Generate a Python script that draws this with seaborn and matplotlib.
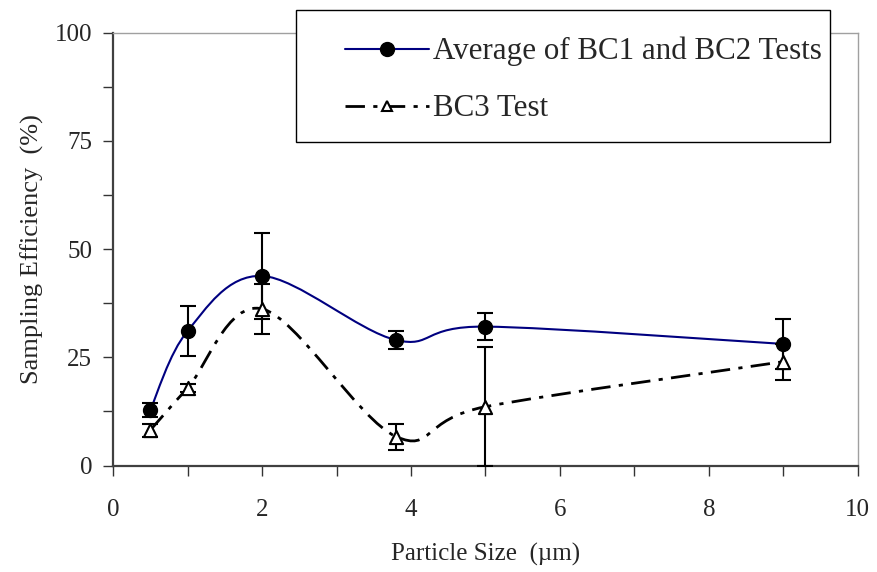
import numpy as np
import pandas as pd
import seaborn as sns
import matplotlib.pyplot as plt
from matplotlib.path import Path
from matplotlib.patches import PathPatch, Rectangle
from matplotlib.lines import Line2D

# particle sizes (um)
sizes_avg = [0.5, 1.0, 2.0, 3.8, 5.0, 9.0]
sizes_bc3 = [0.5, 1.0, 2.0, 3.8, 5.0, 9.0]
# sampling efficiency (%)
eff_avg = [12.9, 31.1, 43.8, 29.0, 32.1, 28.1]
err_avg = [1.6, 5.8, 10.0, 2.1, 3.1, 5.8]
eff_bc3 = [8.2, 17.9, 36.2, 6.7, 13.6, 24.0]
err_bc3 = [1.5, 1.0, 5.8, 3.0, 13.7, 4.2]

label_avg = 'Average of BC1 and BC2 Tests'
label_bc3 = 'BC3 Test'

sns.set_theme(style='ticks')
plt.rcParams['font.family'] = ['Liberation Serif', 'DejaVu Serif']


def smooth_path(xs, ys):
    # excel style smoothed line: cubic bezier through the points
    pts = np.column_stack([xs, ys]).astype(float)
    ext = np.vstack([pts[0], pts, pts[-1]])
    verts = [pts[0]]
    codes = [Path.MOVETO]
    for i in range(len(pts) - 1):
        p0, p1, p2, p3 = ext[i], ext[i + 1], ext[i + 2], ext[i + 3]
        verts += [p1 + (p2 - p0) / 6, p2 - (p3 - p1) / 6, p2]
        codes += [Path.CURVE4] * 3
    return Path(verts, codes)


fig = plt.figure(figsize=(8.77, 5.72), dpi=100)
ax = fig.add_axes([0.129, 0.186, 0.849, 0.757])

navy = '#000080'
dashdot = (0, (7, 3, 1.5, 3))

ax.add_patch(PathPatch(smooth_path(sizes_avg, eff_avg), fill=False,
                       edgecolor=navy, lw=1.5, zorder=2))
ax.add_patch(PathPatch(smooth_path(sizes_bc3, eff_bc3), fill=False,
                       edgecolor='black', lw=2, linestyle=dashdot, zorder=2))

ax.errorbar(sizes_avg, eff_avg, yerr=err_avg, fmt='none', ecolor='black',
            elinewidth=1.5, capsize=6, capthick=1.5, zorder=3)
ax.errorbar(sizes_bc3, eff_bc3, yerr=err_bc3, fmt='none', ecolor='black',
            elinewidth=1.5, capsize=6, capthick=1.5, zorder=3)

df_avg = pd.DataFrame({'size': sizes_avg, 'eff': eff_avg})
df_bc3 = pd.DataFrame({'size': sizes_bc3, 'eff': eff_bc3})
sns.scatterplot(data=df_avg, x='size', y='eff', ax=ax, marker='o', s=100,
                color='black', edgecolor='black', linewidth=1, zorder=4)
sns.scatterplot(data=df_bc3, x='size', y='eff', ax=ax, marker='^', s=90,
                color='white', edgecolor='black', linewidth=1.5, zorder=4)

ax.set_xlim(0, 10)
ax.set_ylim(0, 100)
ax.set_xticks([0, 2, 4, 6, 8, 10])
ax.set_xticks([1, 3, 5, 7, 9], minor=True)
ax.set_yticks([0, 25, 50, 75, 100])
ax.set_yticks([12.5, 37.5, 62.5, 87.5], minor=True)
ax.tick_params(axis='both', which='both', direction='out', length=7,
               width=1, color='#333333', labelsize=18)
ax.tick_params(axis='x', which='major', pad=17)
ax.tick_params(axis='y', which='major', pad=8)

ax.set_xlabel('Particle Size  (\u00b5m)', fontsize=18, labelpad=16)
ax.set_ylabel('Sampling Efficiency  (%)', fontsize=19, labelpad=8)

for side in ['left', 'bottom']:
    ax.spines[side].set_color('#404040')
    ax.spines[side].set_linewidth(1.6)
for side in ['top', 'right']:
    ax.spines[side].set_color('#a0a0a0')
    ax.spines[side].set_linewidth(1)

# legend box, drawn in figure pixels of the reference
W, H = 877, 572
box = Rectangle((296 / W, 1 - 142 / H), (830 - 296) / W, (142 - 10) / H,
                transform=fig.transFigure, facecolor='white',
                edgecolor='black', lw=1, zorder=9)
fig.patches.append(box)

handles = [
    Line2D([], [], color=navy, lw=1.5, marker='o', markersize=10,
           markerfacecolor='black', markeredgecolor='black'),
    Line2D([], [], color='black', lw=2, linestyle=dashdot, marker='^',
           markersize=6.5, markerfacecolor='white', markeredgecolor='black',
           markeredgewidth=1.5),
]
leg = fig.legend(handles, [label_avg, label_bc3], loc='upper left',
                 bbox_to_anchor=(345 / W, 1 - 37 / H), fontsize=22.3,
                 frameon=False, handlelength=2.7, handletextpad=0.15,
                 labelspacing=0.9, borderpad=0, borderaxespad=0)
leg.set_zorder(10)

fig.savefig('out.png', dpi=100)
